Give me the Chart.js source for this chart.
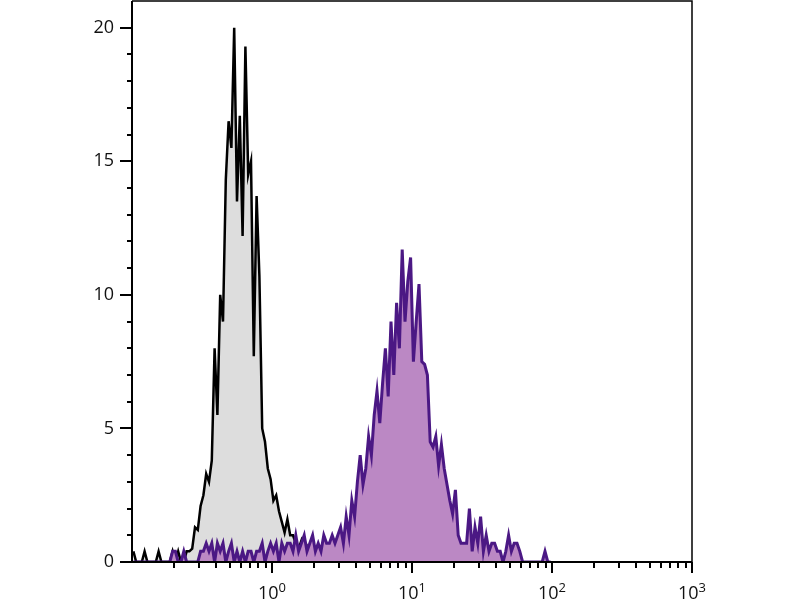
<!DOCTYPE html>
<html>
<head>
<meta charset="utf-8">
<script src="https://cdn.jsdelivr.net/npm/chart.js@4.4.1/dist/chart.umd.min.js"></script>
<style>
  html, body { margin: 0; padding: 0; background: #fff; }
  #wrap { width: 800px; height: 600px; }
</style>
</head>
<body>
<div id="wrap"><canvas id="histo" width="800" height="600"></canvas></div>
<script>
// ================= DATA =================

// bins on the log axis: start exponent and width (decades)
const binLogStart = -1;
const binLogWidth = 0.02;

// unstained control (grey)
const controlCounts = [
  0.4, 0, 0, 0, 0.4, 0, 0, 0, 0, 0.4,
  0, 0, 0, 0, 0.4, 0, 0.4, 0, 0, 0.4,
  0.4, 0.5, 1.3, 1.2, 2.1, 2.5, 3.3, 3.0, 3.8, 8.0,
  5.5, 10.0, 9.0, 14.3, 16.5, 15.5, 20.0, 13.5, 16.7, 12.2,
  19.3, 14.5, 15.0, 7.7, 13.7, 10.7, 5.0, 4.5, 3.5, 3.1,
  2.3, 2.5, 1.9, 1.5, 1.1, 1.6, 1.0, 1.0, 0.7, 0.5,
  0.8, 0.4, 0.6, 0.4, 0.6, 0.4, 0.4, 0, 0.4, 0
];

// stained sample (purple)
const stainedCounts = [
  0, 0, 0, 0, 0, 0, 0, 0, 0, 0,
  0, 0, 0, 0, 0.4, 0.4, 0, 0, 0.4, 0,
  0, 0, 0, 0, 0.4, 0.4, 0.7, 0.4, 0.7, 0,
  0.7, 0.4, 0.7, 0, 0.4, 0.7, 0, 0.4, 0, 0.4,
  0, 0.4, 0.4, 0, 0.4, 0.4, 0.7, 0, 0.4, 0.7,
  0.4, 0.7, 0, 0.7, 0.4, 0.7, 0.7, 0.4, 1.0, 0.4,
  0.7, 1.0, 0.4, 0.7, 1.0, 0.4, 0.7, 0.4, 1.0, 0.7,
  0.7, 1.0, 0.7, 1.0, 1.3, 0.7, 1.7, 1.0, 2.3, 1.7,
  3.0, 4.0, 2.9, 3.5, 4.7, 4.0, 5.5, 6.4, 5.2, 6.7,
  8.0, 6.2, 9.0, 7.0, 9.7, 8.0, 11.7, 9.0, 10.5, 11.4,
  7.5, 9.0, 10.4, 7.5, 7.4, 7.0, 4.5, 4.3, 4.7, 3.6,
  4.4, 3.5, 2.9, 2.3, 1.8, 2.7, 1.0, 0.7, 0.7, 0.7,
  2.0, 0.4, 1.3, 0.7, 1.7, 0.4, 1.0, 0.4, 0.7, 0.7,
  0.4, 0.4, 0, 0.4, 1.0, 0.4, 0.7, 0.7, 0.4, 0,
  0, 0, 0, 0, 0, 0, 0, 0.4, 0, 0
];

const yTicks = [0, 5, 10, 15, 20];
const xDecades = [1, 10, 100, 1000];
const xDecadeExponents = ['0', '1', '2', '3'];

// ================= HELPERS =================

function toPoints(counts) {
  return counts.map((c, i) => ({
    x: Math.pow(10, binLogStart + (i + 0.5) * binLogWidth),
    y: c
  }));
}

function noScalePadding(s) {
  s.paddingTop = 0;
  s.paddingBottom = 0;
  s.paddingLeft = 0;
  s.paddingRight = 0;
}

// ================= AXES / FRAME =================

const frameAndTicks = {
  id: "frameAndTicks",
  afterDraw(chart) {
    const { ctx, chartArea: a, scales } = chart;
    const x = scales.x, y = scales.y;
    ctx.save();
    ctx.strokeStyle = "#000";

    // top + right border
    ctx.lineWidth = 1.5;
    ctx.beginPath();
    ctx.moveTo(a.left, a.top);
    ctx.lineTo(a.right, a.top);
    ctx.lineTo(a.right, a.bottom);
    ctx.stroke();

    // left + bottom axis
    ctx.lineWidth = 2;
    ctx.beginPath();
    ctx.moveTo(a.left, a.top);
    ctx.lineTo(a.left, a.bottom);
    ctx.lineTo(a.right, a.bottom);
    ctx.stroke();

    // y ticks (major every 5, minor every 1)
    for (let v = 0; v <= 20; v++) {
      const py = Math.round(y.getPixelForValue(v));
      const len = v % 5 === 0 ? 12 : 5;
      ctx.beginPath();
      ctx.moveTo(a.left - len, py);
      ctx.lineTo(a.left, py);
      ctx.stroke();
    }

    // x ticks (decades long, 2..9 short)
    xDecades.forEach(d => {
      const px = Math.round(x.getPixelForValue(d));
      ctx.beginPath();
      ctx.moveTo(px, a.bottom);
      ctx.lineTo(px, a.bottom + 11);
      ctx.stroke();
      for (let m = 2; m <= 9; m++) {
        const mx = Math.round(x.getPixelForValue(d * m / 10));
        ctx.beginPath();
        ctx.moveTo(mx, a.bottom);
        ctx.lineTo(mx, a.bottom + 6);
        ctx.stroke();
      }
    });

    // x labels 10^n
    ctx.fillStyle = "#111";
    ctx.textBaseline = "alphabetic";
    ctx.textAlign = "left";
    xDecades.forEach((d, i) => {
      const px = x.getPixelForValue(d);
      ctx.font = "18px 'Open Sans'";
      const wBase = ctx.measureText("10").width;
      ctx.font = "13px 'Open Sans'";
      const wExp = ctx.measureText(xDecadeExponents[i]).width;
      const left = px - (wBase + wExp) / 2;
      ctx.font = "18px 'Open Sans'";
      ctx.fillText("10", left, 599);
      ctx.font = "13px 'Open Sans'";
      ctx.fillText(xDecadeExponents[i], left + wBase, 592);
    });

    ctx.restore();
  }
};

// ================= CHART =================

new Chart(document.getElementById("histo"), {
  type: "line",
  data: {
    datasets: [
      {
        label: "Stained",
        data: toPoints(stainedCounts),
        borderColor: "#4b1884",
        backgroundColor: "#bb88c4",
        borderWidth: 3,
        fill: "origin",
        pointRadius: 0,
        tension: 0,
        order: 1
      },
      {
        label: "Control",
        data: toPoints(controlCounts),
        borderColor: "#000000",
        backgroundColor: "#dddddd",
        borderWidth: 2.5,
        fill: "origin",
        pointRadius: 0,
        tension: 0,
        order: 2
      }
    ]
  },
  options: {
    responsive: false,
    animation: false,
    devicePixelRatio: 1,
    layout: { padding: { left: 0, top: 1, right: 108, bottom: 0 } },
    plugins: {
      legend: { display: false },
      tooltip: { enabled: false }
    },
    scales: {
      x: {
        type: "logarithmic",
        min: 0.1,
        max: 1000,
        grid: { display: false, drawTicks: false },
        border: { display: false },
        ticks: { display: false },
        afterFit: s => { s.height = 38; noScalePadding(s); }
      },
      y: {
        type: "linear",
        min: 0,
        max: 21,
        grid: { display: false, drawTicks: false },
        border: { display: false },
        afterBuildTicks: s => { s.ticks = yTicks.map(v => ({ value: v })); },
        ticks: {
          padding: 18,
          color: "#111",
          font: { family: "'Open Sans'", size: 18 }
        },
        afterFit: s => { s.width = 132; noScalePadding(s); }
      }
    }
  },
  plugins: [frameAndTicks]
});
</script>
</body>
</html>
